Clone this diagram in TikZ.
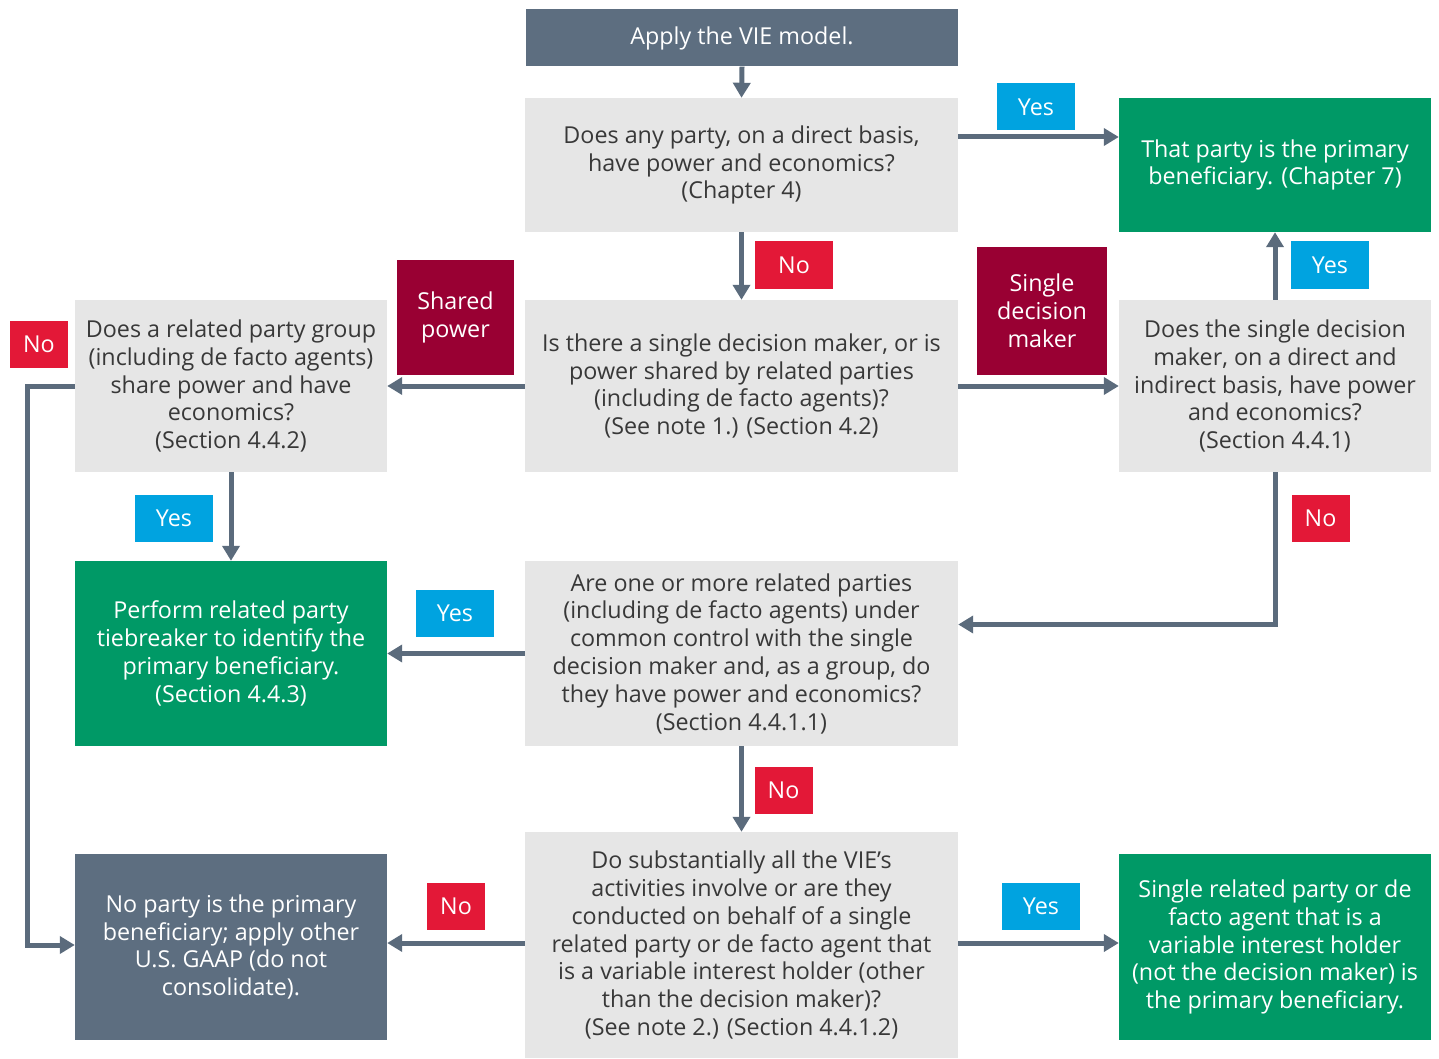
\documentclass[tikz,border=0pt]{standalone}
\usepackage{fontspec}
\setmainfont{Open Sans}
\usetikzlibrary{arrows.meta,calc}
\definecolor{slate}{RGB}{93,110,128}
\definecolor{arrc}{RGB}{91,107,124}
\definecolor{lgray}{RGB}{230,230,230}
\definecolor{vgreen}{RGB}{0,153,102}
\definecolor{vblue}{RGB}{0,163,224}
\definecolor{vred}{RGB}{227,24,55}
\definecolor{maroon}{RGB}{153,0,51}
\definecolor{txt}{RGB}{56,56,56}
\begin{document}
\begin{tikzpicture}[x=1pt,y=-1pt,
  every node/.style={font=\fontsize{23.3}{27.8}\selectfont, align=center, inner sep=0pt},
  qbox/.style={fill=lgray, text=txt},
  gbox/.style={fill=vgreen, text=white},
  sbox/.style={fill=slate, text=white},
  yeslab/.style={fill=vblue, text=white, minimum width=78pt, minimum height=47pt},
  nolab/.style={fill=vred, text=white, minimum height=47pt},
  mlab/.style={fill=maroon, text=white},
  arr/.style={draw=arrc, line width=5pt, -{Triangle[length=15pt,width=17pt]}},
  ln/.style={draw=arrc, line width=5pt}]
\useasboundingbox (0,0) rectangle (1439,1059);
% boxes
\node[sbox, minimum width=432pt, minimum height=57pt] (top) at (742,38) {Apply the VIE model.};
\node[qbox, minimum width=433pt, minimum height=134pt] (q1) at (741.5,165) {Does any party, on a direct basis,\\have power and economics?\\(Chapter 4)};
\node[gbox, minimum width=312pt, minimum height=134pt] (g1) at (1275,165) {That party is the primary\\beneficiary. (Chapter 7)};
\node[qbox, minimum width=433pt, minimum height=172pt] (q2) at (741.5,386) {Is there a single decision maker, or is\\power shared by related parties\\(including de facto agents)?\\(See note 1.) (Section 4.2)};
\node[qbox, minimum width=312pt, minimum height=172pt] (q3) at (231,386) {Does a related party group\\(including de facto agents)\\share power and have\\economics?\\(Section 4.4.2)};
\node[qbox, minimum width=312pt, minimum height=172pt] (q4) at (1275,386) {Does the single decision\\maker, on a direct and\\indirect basis, have power\\and economics?\\(Section 4.4.1)};
\node[gbox, minimum width=312pt, minimum height=185pt] (pr) at (231,653.5) {Perform related party\\tiebreaker to identify the\\primary beneficiary.\\(Section 4.4.3)};
\node[qbox, minimum width=433pt, minimum height=185pt] (q5) at (741.5,653.5) {Are one or more related parties\\(including de facto agents) under\\common control with the single\\decision maker and, as a group, do\\they have power and economics?\\(Section 4.4.1.1)};
\node[qbox, minimum width=433pt, minimum height=226pt] (q6) at (741.5,945) {Do substantially all the VIE’s\\activities involve or are they\\conducted on behalf of a single\\related party or de facto agent that\\is a variable interest holder (other\\than the decision maker)?\\(See note 2.) (Section 4.4.1.2)};
\node[sbox, minimum width=312pt, minimum height=186pt] (np) at (231,947) {No party is the primary\\beneficiary; apply other\\U.S. GAAP (do not\\consolidate).};
\node[gbox, minimum width=312pt, minimum height=186pt] (sr) at (1275,947) {Single related party or de\\facto agent that is a\\variable interest holder\\(not the decision maker) is\\the primary beneficiary.};
% connectors
\draw[arr] (top.south) -- (q1.north);
\draw[arr] (q1.south) -- (q2.north);
\coordinate (q1out) at ($(q1.east)+(0,-28)$);
\draw[arr] (q1out) -- (q1out -| g1.west);
\draw[arr] (q2.west) -- (q3.east);
\draw[arr] (q2.east) -- (q4.west);
\draw[arr] (q4.north) -- (g1.south);
\draw[arr] (q3.south) -- (pr.north);
\coordinate (q5in) at ($(q5.east)+(0,-29)$);
\draw[arr] (q4.south) |- (q5in);
\draw[arr] (q5.west) -- (pr.east);
\draw[arr] (q5.south) -- (q6.north);
\coordinate (q6l) at ($(q6.west)+(0,-2)$);
\coordinate (q6r) at ($(q6.east)+(0,-2)$);
\draw[arr] (q6l) -- (q6l -| np.east);
\draw[arr] (q6r) -- (q6r -| sr.west);
\coordinate (lp) at (27,386);
\draw[arr] (q3.west) -- (lp) |- (np.west |- q6.west);
% labels
\node[yeslab] (y1) at (1036,107) {Yes};
\node[nolab, minimum width=78pt] (n1) at (794,265) {No};
\node[mlab, minimum width=117pt, minimum height=115pt] (sp) at (455.5,317.5) {Shared\\power};
\node[mlab, minimum width=130pt, minimum height=128pt] (sd) at (1042,311) {Single\\decision\\maker};
\node[yeslab] (y2) at (1330,265) {Yes};
\node[nolab, minimum width=58pt] (n2) at (39,344) {No};
\node[yeslab] (y3) at (174,518.5) {Yes};
\node[nolab, minimum width=58pt] (n3) at (1320.5,518.5) {No};
\node[yeslab] (y4) at (455,613.5) {Yes};
\node[nolab, minimum width=58pt] (n4) at (783.5,790) {No};
\node[nolab, minimum width=58pt] (n5) at (456,906.5) {No};
\node[yeslab] (y5) at (1041,906.5) {Yes};
\end{tikzpicture}
\end{document}
